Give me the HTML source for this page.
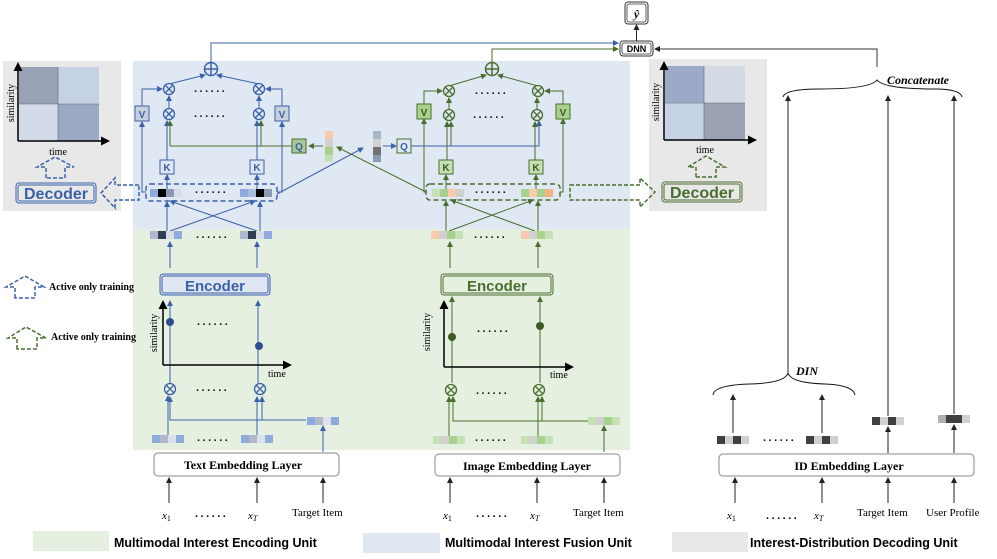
<!DOCTYPE html>
<html><head><meta charset="utf-8"><style>
html,body{margin:0;padding:0;background:#fff;}
svg{display:block;}
.s{font-family:"Liberation Serif",serif;}
.a{font-family:"Liberation Sans",sans-serif;font-weight:bold;}
</style></head><body>
<svg width="997" height="559" viewBox="0 0 997 559" xmlns="http://www.w3.org/2000/svg">
<defs>
<marker id="ab" markerWidth="6" markerHeight="6" refX="5" refY="3" orient="auto" markerUnits="userSpaceOnUse"><path d="M0,0 L6,3 L0,6 z" fill="#3a62a8"/></marker>
<marker id="ag" markerWidth="6" markerHeight="6" refX="5" refY="3" orient="auto" markerUnits="userSpaceOnUse"><path d="M0,0 L6,3 L0,6 z" fill="#4a6e2e"/></marker>
<marker id="ak" markerWidth="6" markerHeight="6" refX="5" refY="3" orient="auto" markerUnits="userSpaceOnUse"><path d="M0,0 L6,3 L0,6 z" fill="#222"/></marker>
<marker id="akb" markerWidth="9" markerHeight="9" refX="7" refY="4.5" orient="auto" markerUnits="userSpaceOnUse"><path d="M0,0 L9,4.5 L0,9 z" fill="#000"/></marker>
</defs>

<rect x="133" y="61" width="497" height="168" fill="#e0e8f3"/>
<rect x="133" y="229" width="497" height="221" fill="#e6f0e0"/>
<rect x="3" y="61" width="118" height="150" fill="#e8e8e8"/>
<rect x="649" y="59" width="118" height="152" fill="#e8e8e8"/>

<rect x="19" y="67" width="39" height="37" fill="#99a3b5"/>
<rect x="58" y="67" width="41" height="37" fill="#c5d1e4"/>
<rect x="19" y="104" width="39" height="37" fill="#d3dbe8"/>
<rect x="58" y="104" width="41" height="37" fill="#9aa9c4"/>
<line x1="58" y1="67" x2="58" y2="141" stroke="#666" stroke-width="0.6"/>
<line x1="19" y1="104" x2="99" y2="104" stroke="#666" stroke-width="0.6"/>
<line x1="18" y1="141" x2="18" y2="64" stroke="#000" stroke-width="1.5" marker-end="url(#akb)"/>
<line x1="18" y1="141" x2="108" y2="141" stroke="#000" stroke-width="1.5" marker-end="url(#akb)"/>
<text class="s" x="58" y="155" font-size="10" text-anchor="middle">time</text>
<text class="s" x="14" y="103" font-size="10" text-anchor="middle" transform="rotate(-90 14 103)">similarity</text>
<rect x="665" y="66" width="39" height="37" fill="#9babc7"/>
<rect x="704" y="66" width="41" height="37" fill="#d4dbe7"/>
<rect x="665" y="103" width="39" height="37" fill="#c6d2e6"/>
<rect x="704" y="103" width="41" height="37" fill="#9aa2b3"/>
<line x1="704" y1="66" x2="704" y2="140" stroke="#666" stroke-width="0.6"/>
<line x1="665" y1="103" x2="745" y2="103" stroke="#666" stroke-width="0.6"/>
<line x1="664" y1="140" x2="664" y2="63" stroke="#000" stroke-width="1.5" marker-end="url(#akb)"/>
<line x1="664" y1="140" x2="755" y2="140" stroke="#000" stroke-width="1.5" marker-end="url(#akb)"/>
<text class="s" x="705" y="153" font-size="10" text-anchor="middle">time</text>
<text class="s" x="659" y="102" font-size="10" text-anchor="middle" transform="rotate(-90 659 102)">similarity</text>

<rect x="16" y="183" width="80" height="20" rx="3" fill="none" stroke="#3a62a8" stroke-width="1"/>
<rect x="18" y="185" width="76" height="16" rx="2" fill="none" stroke="#3a62a8" stroke-width="1"/>
<text class="a" x="56" y="199" font-size="16" fill="#3a62a8" text-anchor="middle">Decoder</text>
<rect x="662" y="182" width="80" height="20" rx="3" fill="none" stroke="#4a6e2e" stroke-width="1"/>
<rect x="664" y="184" width="76" height="16" rx="2" fill="none" stroke="#4a6e2e" stroke-width="1"/>
<text class="a" x="702" y="198" font-size="16" fill="#4a6e2e" text-anchor="middle">Decoder</text>
<path d="M46,178 L46,167 L37,167 L55,157 L74,167 L65,167 L65,178 Z" fill="none" stroke="#3a62a8" stroke-width="1.5" stroke-dasharray="4,2"/>
<path d="M196,177 L196,167 L188,167 L206,156 L225,167 L216,167 L216,177 Z" transform="translate(500,0)" fill="none" stroke="#4a6e2e" stroke-width="1.5" stroke-dasharray="4,2"/>
<path d="M139,185 L115,185 L115,178 L101,193 L115,208 L115,200 L139,200 Z" fill="none" stroke="#3a62a8" stroke-width="1.5" stroke-dasharray="4,2"/>
<path d="M570,185 L640,185 L640,178 L655,192 L640,207 L640,200 L570,200 Z" fill="none" stroke="#4a6e2e" stroke-width="1.5" stroke-dasharray="4,2"/>
<path d="M15,298 L15,287 L6,287 L25,276 L44,287 L35,287 L35,298 Z" fill="none" stroke="#3a62a8" stroke-width="1.5" stroke-dasharray="4,2"/>
<path d="M17,349 L17,338 L8,338 L26,327 L46,338 L37,338 L37,349 Z" fill="none" stroke="#4a6e2e" stroke-width="1.5" stroke-dasharray="4,2"/>
<text class="s" x="49" y="290" font-size="10" font-weight="bold">Active only training</text>
<text class="s" x="51" y="340" font-size="10" font-weight="bold">Active only training</text>

<rect x="625" y="2" width="23" height="22" rx="3" fill="#fff" stroke="#333" stroke-width="1"/>
<rect x="627" y="4" width="19" height="18" rx="2" fill="none" stroke="#333" stroke-width="0.8"/>
<text class="s" x="636.5" y="18" font-size="12" font-weight="bold" font-style="italic" text-anchor="middle">ŷ</text>
<rect x="620" y="41" width="33" height="15" rx="3" fill="#fff" stroke="#333" stroke-width="1"/>
<rect x="622" y="43" width="29" height="11" rx="2" fill="none" stroke="#333" stroke-width="0.8"/>
<text class="a" x="636.5" y="52" font-size="9" text-anchor="middle">DNN</text>
<line x1="636.5" y1="41" x2="636.5" y2="25" stroke="#222" stroke-width="1" marker-end="url(#ak)"/>
<polyline points="211,62 211,43 618,43" fill="none" stroke="#3a62a8" stroke-width="1" marker-end="url(#ab)"/>
<polyline points="492,62 492,49 618,49" fill="none" stroke="#4a6e2e" stroke-width="1" marker-end="url(#ag)"/>
<polyline points="877,67 877,49 655,49" fill="none" stroke="#333" stroke-width="1" marker-end="url(#ak)"/>
<path d="M783,97 Q785,89 820,89 Q870,89 877,80 Q884,89 935,89 Q960,89 962,97" fill="none" stroke="#111" stroke-width="1"/>
<text class="s" x="887" y="84" font-size="12" font-style="italic" font-weight="bold">Concatenate</text>

<g stroke="#3a62a8" fill="none" stroke-width="1">
<circle cx="211" cy="69" r="6.5" stroke-width="1.5"/><line x1="204.5" y1="69" x2="217.5" y2="69" stroke-width="1.5"/><line x1="211" y1="62.5" x2="211" y2="75.5" stroke-width="1.5"/>
<line x1="169" y1="84" x2="205" y2="75" marker-end="url(#ab)"/><line x1="259" y1="84" x2="217" y2="75" marker-end="url(#ab)"/>
<line x1="169" y1="108" x2="169" y2="96" marker-end="url(#ab)"/><line x1="259" y1="108" x2="259" y2="96" marker-end="url(#ab)"/>
<polyline points="142,107 142,89 162,89" marker-end="url(#ab)"/><polyline points="282,107 282,89 266,89" marker-end="url(#ab)"/>
<line x1="167" y1="160" x2="167" y2="121" marker-end="url(#ab)"/><line x1="257" y1="160" x2="257" y2="121" marker-end="url(#ab)"/>
<polyline points="146,192 142,192 142,122" marker-end="url(#ab)"/><polyline points="277,192 282,192 282,122" marker-end="url(#ab)"/>
<line x1="167" y1="189" x2="167" y2="175" marker-end="url(#ab)"/><line x1="257" y1="189" x2="257" y2="175" marker-end="url(#ab)"/>
<line x1="167" y1="231" x2="167" y2="202" marker-end="url(#ab)"/><line x1="260" y1="231" x2="260" y2="202" marker-end="url(#ab)"/>
<line x1="170" y1="231" x2="255" y2="201" marker-end="url(#ab)"/><line x1="257" y1="231" x2="170" y2="201" marker-end="url(#ab)"/>
<line x1="170" y1="268" x2="170" y2="242" marker-end="url(#ab)"/><line x1="257" y1="268" x2="257" y2="242" marker-end="url(#ab)"/>
<line x1="170" y1="383" x2="170" y2="301" marker-end="url(#ab)"/><line x1="258" y1="383" x2="258" y2="301" marker-end="url(#ab)"/>
<line x1="168" y1="435" x2="168" y2="396" marker-end="url(#ab)"/><polyline points="306,420 170,420 170,397" marker-end="url(#ab)"/>
<line x1="257" y1="435" x2="257" y2="397" marker-end="url(#ab)"/><line x1="262" y1="420" x2="262" y2="397" marker-end="url(#ab)"/>
<line x1="323" y1="452" x2="323" y2="426" marker-end="url(#ab)"/>
<line x1="277" y1="194" x2="363" y2="148" marker-end="url(#ab)"/>
<line x1="383" y1="146" x2="396" y2="146" marker-end="url(#ab)"/>
<polyline points="406,146 539,146 539,121" marker-end="url(#ab)"/>
</g>
<circle cx="170" cy="322" r="4" fill="#2d4f8f"/><circle cx="259" cy="346" r="4" fill="#2d4f8f"/>
<g stroke="#4a6e2e" fill="none" stroke-width="1">
<line x1="292" y1="146" x2="170" y2="146"/><line x1="170" y1="146" x2="170" y2="121" marker-end="url(#ag)"/><line x1="261" y1="146" x2="261" y2="121" marker-end="url(#ag)"/>
<line x1="323" y1="146" x2="309" y2="146" marker-end="url(#ag)"/>
<line x1="426" y1="192" x2="337" y2="147" marker-end="url(#ag)"/>
</g>
<g stroke="#3a62a8" fill="#e0e8f3" stroke-width="1.3">
<circle cx="169" cy="89" r="5.5"/><circle cx="259" cy="89" r="5.5"/><circle cx="169" cy="114" r="5.5"/><circle cx="259" cy="114" r="5.5"/>
<circle cx="170" cy="389" r="5.5" fill="#e6f0e0"/><circle cx="260" cy="389" r="5.5" fill="#e6f0e0"/>
<path d="M165,85 l8,8 M173,85 l-8,8 M255,85 l8,8 M263,85 l-8,8 M165,110 l8,8 M173,110 l-8,8 M255,110 l8,8 M263,110 l-8,8 M166,385 l8,8 M174,385 l-8,8 M256,385 l8,8 M264,385 l-8,8"/>
</g>
<g font-family="Liberation Sans" font-weight="bold" font-size="10" text-anchor="middle">
<rect x="135" y="106" width="14" height="15" fill="#c8d0de" stroke="#3a62a8"/><text x="142" y="118" fill="#3a62a8">V</text>
<rect x="275" y="106" width="14" height="15" fill="#c8d0de" stroke="#3a62a8"/><text x="282" y="118" fill="#3a62a8">V</text>
<rect x="160" y="160" width="14" height="14" fill="#dfe6f2" stroke="#3a62a8"/><text x="167" y="171" fill="#3a62a8">K</text>
<rect x="250" y="160" width="14" height="14" fill="#dfe6f2" stroke="#3a62a8"/><text x="257" y="171" fill="#3a62a8">K</text>
<rect x="292" y="139" width="14" height="14" fill="#a9c89a" stroke="#4a6e2e"/><text x="299" y="150" fill="#3a62a8">Q</text>
<rect x="397" y="139" width="14" height="14" fill="#e0e8f3" stroke="#4a6e2e"/><text x="404" y="150" fill="#3a62a8">Q</text>
</g>
<rect x="146" y="184" width="131" height="17" rx="4" fill="none" stroke="#3a62a8" stroke-width="1.5" stroke-dasharray="5,3"/>
<g>
<rect x="150" y="189" width="8" height="8" fill="#8faadc"/><rect x="158" y="189" width="8" height="8" fill="#000"/><rect x="166" y="189" width="8" height="8" fill="#8a9ab5"/><rect x="174" y="189" width="8" height="8" fill="#d6dce8"/>
<rect x="240" y="189" width="8" height="8" fill="#8faadc"/><rect x="248" y="189" width="8" height="8" fill="#aabbe0"/><rect x="256" y="189" width="8" height="8" fill="#000"/><rect x="264" y="189" width="8" height="8" fill="#8a9ab5"/>
<rect x="150" y="231" width="8" height="8" fill="#b0b9cb"/><rect x="158" y="231" width="8" height="8" fill="#323d55"/><rect x="166" y="231" width="8" height="8" fill="#d8dde8"/><rect x="174" y="231" width="8" height="8" fill="#8faadc"/>
<rect x="240" y="231" width="8" height="8" fill="#b0b9cb"/><rect x="248" y="231" width="8" height="8" fill="#323d55"/><rect x="256" y="231" width="8" height="8" fill="#d8dde8"/><rect x="264" y="231" width="8" height="8" fill="#8faadc"/>
<rect x="152" y="435" width="8" height="8" fill="#8faadc"/><rect x="160" y="435" width="8" height="8" fill="#b0b9cb"/><rect x="168" y="435" width="8" height="8" fill="#dbe0ea"/><rect x="176" y="435" width="8" height="8" fill="#8faadc"/>
<rect x="241" y="435" width="8" height="8" fill="#8faadc"/><rect x="249" y="435" width="8" height="8" fill="#b0b9cb"/><rect x="257" y="435" width="8" height="8" fill="#dbe0ea"/><rect x="265" y="435" width="8" height="8" fill="#8faadc"/>
<rect x="307" y="417" width="8" height="8" fill="#8faadc"/><rect x="315" y="417" width="8" height="8" fill="#b0b9cb"/><rect x="323" y="417" width="8" height="8" fill="#dbe0ea"/><rect x="331" y="417" width="8" height="8" fill="#8faadc"/>
<rect x="325" y="131" width="8" height="8" fill="#f8cbad"/><rect x="325" y="139" width="8" height="8" fill="#d0d0d0"/><rect x="325" y="147" width="8" height="8" fill="#a9d18e"/><rect x="325" y="155" width="8" height="7" fill="#c5e0b4"/>
<rect x="373" y="131" width="8" height="8" fill="#aab5c8"/><rect x="373" y="139" width="8" height="8" fill="#d0d0d0"/><rect x="373" y="147" width="8" height="8" fill="#707070"/><rect x="373" y="155" width="8" height="7" fill="#8a9ab5"/>
</g>
<rect x="160" y="274" width="110" height="21" rx="3" fill="#dfe6f2" stroke="#3a62a8"/>
<rect x="162" y="276" width="106" height="17" rx="2" fill="none" stroke="#3a62a8"/>
<text class="a" x="215" y="291" font-size="15" fill="#3a62a8" text-anchor="middle">Encoder</text>
<line x1="163" y1="365" x2="163" y2="302" stroke="#000" stroke-width="1.5" marker-end="url(#akb)"/>
<line x1="163" y1="365" x2="290" y2="365" stroke="#000" stroke-width="1.5" marker-end="url(#akb)"/>
<text class="s" x="157" y="333" font-size="10" text-anchor="middle" transform="rotate(-90 157 333)">similarity</text>
<text class="s" x="268" y="377" font-size="10">time</text>

<g stroke="#4a6e2e" fill="none" stroke-width="1">
<circle cx="492" cy="69" r="6.5" stroke-width="1.5"/><line x1="485.5" y1="69" x2="498.5" y2="69" stroke-width="1.5"/><line x1="492" y1="62.5" x2="492" y2="75.5" stroke-width="1.5"/>
<line x1="449" y1="86" x2="486" y2="75" marker-end="url(#ag)"/><line x1="538" y1="86" x2="498" y2="75" marker-end="url(#ag)"/>
<line x1="449" y1="109" x2="449" y2="98" marker-end="url(#ag)"/><line x1="537" y1="109" x2="537" y2="98" marker-end="url(#ag)"/>
<polyline points="424,104 424,91 442,91" marker-end="url(#ag)"/><polyline points="563,104 563,91 545,91" marker-end="url(#ag)"/>
<line x1="447" y1="160" x2="447" y2="122" marker-end="url(#ag)"/><line x1="451" y1="146" x2="451" y2="122" marker-end="url(#ag)"/>
<line x1="535" y1="160" x2="535" y2="122" marker-end="url(#ag)"/>
<polyline points="426,192 424,192 424,119" marker-end="url(#ag)"/><polyline points="560,192 563,192 563,119" marker-end="url(#ag)"/>
<line x1="446" y1="189" x2="446" y2="175" marker-end="url(#ag)"/><line x1="536" y1="189" x2="536" y2="175" marker-end="url(#ag)"/>
<line x1="446" y1="231" x2="446" y2="201" marker-end="url(#ag)"/><line x1="538" y1="231" x2="538" y2="201" marker-end="url(#ag)"/>
<line x1="449" y1="231" x2="533" y2="200" marker-end="url(#ag)"/><line x1="535" y1="231" x2="451" y2="200" marker-end="url(#ag)"/>
<line x1="450" y1="268" x2="450" y2="242" marker-end="url(#ag)"/><line x1="538" y1="268" x2="538" y2="242" marker-end="url(#ag)"/>
<line x1="452" y1="383" x2="452" y2="297" marker-end="url(#ag)"/><line x1="540" y1="383" x2="540" y2="297" marker-end="url(#ag)"/>
<line x1="449" y1="437" x2="449" y2="397" marker-end="url(#ag)"/><polyline points="588,421 453,421 453,397" marker-end="url(#ag)"/>
<line x1="538" y1="437" x2="538" y2="397" marker-end="url(#ag)"/><line x1="542" y1="421" x2="542" y2="397" marker-end="url(#ag)"/>
<line x1="604" y1="452" x2="604" y2="426" marker-end="url(#ag)"/>
</g>
<circle cx="452" cy="337" r="4" fill="#3c5a24"/><circle cx="540" cy="326" r="4" fill="#3c5a24"/>
<g stroke="#4a6e2e" fill="#e0e8f3" stroke-width="1.3">
<circle cx="449" cy="91" r="5.5"/><circle cx="538" cy="91" r="5.5"/><circle cx="449" cy="115" r="5.5"/><circle cx="537" cy="115" r="5.5"/>
<circle cx="451" cy="390" r="5.5" fill="#e6f0e0"/><circle cx="539" cy="390" r="5.5" fill="#e6f0e0"/>
<path d="M445,87 l8,8 M453,87 l-8,8 M534,87 l8,8 M542,87 l-8,8 M445,111 l8,8 M453,111 l-8,8 M533,111 l8,8 M541,111 l-8,8 M447,386 l8,8 M455,386 l-8,8 M535,386 l8,8 M543,386 l-8,8"/>
</g>
<g font-family="Liberation Sans" font-weight="bold" font-size="10" text-anchor="middle" fill="#3c5a24">
<rect x="417" y="104" width="14" height="15" fill="#a9d18e" stroke="#4a6e2e"/><text x="424" y="116">V</text>
<rect x="556" y="104" width="14" height="15" fill="#a9d18e" stroke="#4a6e2e"/><text x="563" y="116">V</text>
<rect x="439" y="160" width="14" height="14" fill="#c5e0b4" stroke="#4a6e2e"/><text x="446" y="171">K</text>
<rect x="529" y="160" width="14" height="14" fill="#c5e0b4" stroke="#4a6e2e"/><text x="536" y="171">K</text>
</g>
<rect x="426" y="184" width="134" height="16" rx="4" fill="none" stroke="#4a6e2e" stroke-width="1.5" stroke-dasharray="5,3"/>
<g>
<rect x="432" y="189" width="8" height="8" fill="#c5e0b4"/><rect x="440" y="189" width="8" height="8" fill="#a9d18e"/><rect x="448" y="189" width="8" height="8" fill="#f8cbad"/><rect x="456" y="189" width="8" height="8" fill="#d0d0d0"/>
<rect x="521" y="189" width="8" height="8" fill="#a9d18e"/><rect x="529" y="189" width="8" height="8" fill="#f8cbad"/><rect x="537" y="189" width="8" height="8" fill="#a9d18e"/><rect x="545" y="189" width="8" height="8" fill="#f4b183"/>
<rect x="431" y="231" width="8" height="8" fill="#f8cbad"/><rect x="439" y="231" width="8" height="8" fill="#d0d0d0"/><rect x="447" y="231" width="8" height="8" fill="#a9d18e"/><rect x="455" y="231" width="8" height="8" fill="#c5e0b4"/>
<rect x="521" y="231" width="8" height="8" fill="#f8cbad"/><rect x="529" y="231" width="8" height="8" fill="#d0d0d0"/><rect x="537" y="231" width="8" height="8" fill="#a9d18e"/><rect x="545" y="231" width="8" height="8" fill="#c5e0b4"/>
<rect x="433" y="436" width="8" height="8" fill="#c5e0b4"/><rect x="441" y="436" width="8" height="8" fill="#d0d0d0"/><rect x="449" y="436" width="8" height="8" fill="#a9d18e"/><rect x="457" y="436" width="8" height="8" fill="#c5e0b4"/>
<rect x="521" y="436" width="8" height="8" fill="#c5e0b4"/><rect x="529" y="436" width="8" height="8" fill="#d0d0d0"/><rect x="537" y="436" width="8" height="8" fill="#a9d18e"/><rect x="545" y="436" width="8" height="8" fill="#c5e0b4"/>
<rect x="588" y="417" width="8" height="8" fill="#c5e0b4"/><rect x="596" y="417" width="8" height="8" fill="#d0d0d0"/><rect x="604" y="417" width="8" height="8" fill="#a9d18e"/><rect x="612" y="417" width="8" height="8" fill="#c5e0b4"/>
</g>
<rect x="441" y="274" width="112" height="21" rx="3" fill="#e6f0e0" stroke="#4a6e2e"/>
<rect x="443" y="276" width="108" height="17" rx="2" fill="none" stroke="#4a6e2e"/>
<text class="a" x="497" y="291" font-size="15" fill="#4a6e2e" text-anchor="middle">Encoder</text>
<line x1="444" y1="367" x2="444" y2="302" stroke="#000" stroke-width="1.5" marker-end="url(#akb)"/>
<line x1="444" y1="367" x2="572" y2="367" stroke="#000" stroke-width="1.5" marker-end="url(#akb)"/>
<text class="s" x="430" y="332" font-size="10" text-anchor="middle" transform="rotate(-90 430 332)">similarity</text>
<text class="s" x="550" y="378" font-size="10">time</text>

<g font-family="Liberation Sans" font-size="11" font-weight="bold" fill="#111" letter-spacing="2.5">
<text x="194" y="92">......</text><text x="194" y="117">......</text><text x="196" y="238">......</text><text x="197" y="325">......</text><text x="196" y="391">......</text><text x="197" y="441">......</text>
<text x="475" y="94">......</text><text x="473" y="118">......</text><text x="475" y="193">......</text><text x="474" y="238">......</text><text x="477" y="332">......</text><text x="476" y="394">......</text><text x="475" y="441">......</text>
<text x="195" y="193">......</text>
<text x="763" y="441">......</text>
</g>

<g fill="#fff" stroke="#888" stroke-width="1">
<rect x="154" y="453" width="185" height="23" rx="4"/>
<rect x="435" y="454" width="185" height="22" rx="4"/>
<rect x="719" y="454" width="255" height="22" rx="4"/>
</g>
<g class="s" font-size="12" font-weight="bold" text-anchor="middle">
<text x="243" y="469">Text Embedding Layer</text>
<text x="527" y="470">Image Embedding Layer</text>
<text x="849" y="470">ID Embedding Layer</text>
</g>
<g stroke="#222" stroke-width="1">
<line x1="169" y1="503" x2="169" y2="478" marker-end="url(#ak)"/><line x1="257" y1="503" x2="257" y2="478" marker-end="url(#ak)"/><line x1="323" y1="503" x2="323" y2="478" marker-end="url(#ak)"/>
<line x1="450" y1="503" x2="450" y2="478" marker-end="url(#ak)"/><line x1="537" y1="503" x2="537" y2="478" marker-end="url(#ak)"/><line x1="604" y1="503" x2="604" y2="478" marker-end="url(#ak)"/>
<line x1="735" y1="503" x2="735" y2="478" marker-end="url(#ak)"/><line x1="822" y1="503" x2="822" y2="478" marker-end="url(#ak)"/><line x1="888" y1="503" x2="888" y2="478" marker-end="url(#ak)"/><line x1="954" y1="503" x2="954" y2="478" marker-end="url(#ak)"/>
<line x1="888" y1="453" x2="888" y2="427" marker-end="url(#ak)"/><line x1="954" y1="453" x2="954" y2="425" marker-end="url(#ak)"/>
<line x1="733" y1="433" x2="733" y2="395" marker-end="url(#ak)"/><line x1="822" y1="433" x2="822" y2="395" marker-end="url(#ak)"/>
<line x1="788" y1="372" x2="788" y2="96" marker-end="url(#ak)"/><line x1="888" y1="416" x2="888" y2="96" marker-end="url(#ak)"/><line x1="954" y1="414" x2="954" y2="96" marker-end="url(#ak)"/>
</g>
<path d="M713,395 Q714,385 750,384 Q785,383 788,373 Q791,383 825,384 Q853,385 855,395" fill="none" stroke="#111" stroke-width="1"/>
<text class="s" x="796" y="375" font-size="12" font-style="italic" font-weight="bold">DIN</text>
<g>
<rect x="717" y="436" width="8" height="8" fill="#404040"/><rect x="725" y="436" width="8" height="8" fill="#d0d0d0"/><rect x="733" y="436" width="8" height="8" fill="#404040"/><rect x="741" y="436" width="8" height="8" fill="#d0d0d0"/>
<rect x="806" y="436" width="8" height="8" fill="#404040"/><rect x="814" y="436" width="8" height="8" fill="#d0d0d0"/><rect x="822" y="436" width="8" height="8" fill="#404040"/><rect x="830" y="436" width="8" height="8" fill="#d0d0d0"/>
<rect x="872" y="417" width="8" height="8" fill="#404040"/><rect x="880" y="417" width="8" height="8" fill="#d0d0d0"/><rect x="888" y="417" width="8" height="8" fill="#404040"/><rect x="896" y="417" width="8" height="8" fill="#d0d0d0"/>
<rect x="938" y="415" width="8" height="8" fill="#b0b0b0"/><rect x="946" y="415" width="8" height="8" fill="#404040"/><rect x="954" y="415" width="8" height="8" fill="#404040"/><rect x="962" y="415" width="8" height="8" fill="#d0d0d0"/>
</g>

<g class="s" font-size="11">
<text x="162" y="519" font-style="italic">x<tspan font-size="8" dy="2" font-style="normal">1</tspan></text>
<text x="248" y="519" font-style="italic">x<tspan font-size="8" dy="2">T</tspan></text>
<text x="292" y="516">Target Item</text>
<text x="443" y="519" font-style="italic">x<tspan font-size="8" dy="2" font-style="normal">1</tspan></text>
<text x="530" y="519" font-style="italic">x<tspan font-size="8" dy="2">T</tspan></text>
<text x="573" y="516">Target Item</text>
<text x="727" y="519" font-style="italic">x<tspan font-size="8" dy="2" font-style="normal">1</tspan></text>
<text x="814" y="519" font-style="italic">x<tspan font-size="8" dy="2">T</tspan></text>
<text x="857" y="516">Target Item</text>
<text x="926" y="516">User Profile</text>
</g>
<g font-family="Liberation Sans" font-size="11" font-weight="bold" letter-spacing="2.5">
<text x="195" y="517">......</text><text x="476" y="517">......</text><text x="766" y="519">......</text>
</g>

<rect x="33" y="531" width="76" height="20" fill="#e6f0e0"/>
<rect x="363" y="533" width="77" height="20" fill="#e0e8f3"/>
<rect x="672" y="532" width="76" height="20" fill="#e8e8e8"/>
<g class="a" font-size="12.5">
<text x="114" y="547">Multimodal Interest Encoding Unit</text>
<text x="445" y="547">Multimodal Interest Fusion Unit</text>
<text x="750" y="547">Interest-Distribution Decoding Unit</text>
</g>
</svg>
</body></html>
